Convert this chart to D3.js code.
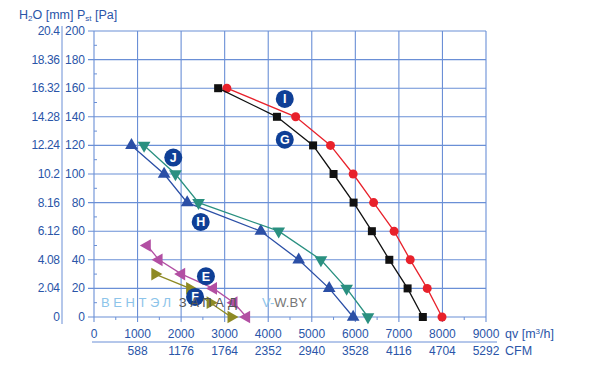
<!DOCTYPE html>
<html>
<head>
<meta charset="utf-8">
<script src="https://cdn.jsdelivr.net/npm/d3@7"></script>
<style>
	body { margin: 0; background: #fff; }
	svg { display: block; font-family: "Liberation Sans", Arial, sans-serif; }
</style>
</head>
<body>
<script>
// flow ticks in m3/h and the matching CFM labels
var flowTicks = [0, 1000, 2000, 3000, 4000, 5000, 6000, 7000, 8000, 9000];
var cfmLabels = ["", "588", "1176", "1764", "2352", "2940", "3528", "4116", "4704", "5292"];
// static pressure ticks in Pa and the matching mm H2O labels
var paTicks = [0, 20, 40, 60, 80, 100, 120, 140, 160, 180, 200];
var mmLabels = ["0", "2.04", "4.08", "6.12", "8.16", "10.2", "12.24", "14.28", "16.32", "18.36", "20.4"];

// curves, [flow m3/h, pressure Pa]
var curveI = [[3050,160],[4630,140],[5430,120],[5950,100],[6420,80],[6890,60],[7260,40],[7650,20],[7990,0]];
var curveG = [[2850,160],[4200,140],[5030,120],[5500,100],[5960,80],[6380,60],[6780,40],[7200,20],[7550,0]];
var curveH = [[860,120],[1610,100],[2140,80],[3830,60],[4700,40],[5400,20],[5950,0]];
var curveJ = [[1150,120],[1870,100],[2400,80],[4240,60],[5210,40],[5800,20],[6290,0]];
var curveE = [[1220,50],[1490,40],[2010,30],[2740,20],[3210,10],[3500,0]];
var curveF = [[1400,30],[2200,20],[2670,10],[3150,0]];

var curveNames = ["I", "G", "H", "J", "E", "F"];
// where the letter badges sit, in data units
var badgeFlow = [4380, 4380, 2450, 1820, 2570, 2320];
var badgePa = [152.5, 124, 66.5, 111.5, 28.5, 14];

var W = 595, H = 370;
var blue = "#2a55a8", grid = "#6a8fd6";

var svg = d3.select("body").append("svg")
	.attr("width", W)
	.attr("height", H);

var x = d3.scaleLinear().domain([0, 9000]).range([94, 486]);
var y = d3.scaleLinear().domain([0, 200]).range([317, 31]);

// grid
svg.append("g").selectAll("line.v")
	.data(flowTicks).enter().append("line")
	.attr("x1", function(d){ return x(d); }).attr("x2", function(d){ return x(d); })
	.attr("y1", y(200)).attr("y2", y(0) + 5)
	.attr("stroke", grid).attr("stroke-width", 1.1);
svg.append("g").selectAll("line.h")
	.data(paTicks).enter().append("line")
	.attr("x1", x(0) - 6).attr("x2", x(9000))
	.attr("y1", function(d){ return y(d); }).attr("y2", function(d){ return y(d); })
	.attr("stroke", grid).attr("stroke-width", 1.1);

// minor ticks
var minorPa = d3.range(10, 200, 20);
svg.append("g").selectAll("line")
	.data(minorPa).enter().append("line")
	.attr("x1", x(0)).attr("x2", x(0) + 3)
	.attr("y1", function(d){ return y(d); }).attr("y2", function(d){ return y(d); })
	.attr("stroke", grid);
var minorFlow = d3.range(500, 9000, 1000);
svg.append("g").selectAll("line")
	.data(minorFlow).enter().append("line")
	.attr("x1", function(d){ return x(d); }).attr("x2", function(d){ return x(d); })
	.attr("y1", y(0)).attr("y2", y(0) + 3)
	.attr("stroke", grid);

// left axes labels
var left = svg.append("g").attr("font-size", 12).attr("fill", blue).attr("text-anchor", "end");
left.selectAll("text.pa").data(paTicks).enter().append("text")
	.attr("x", 85).attr("y", function(d){ return y(d) + 4; })
	.text(function(d){ return d; });
left.selectAll("text.mm").data(paTicks).enter().append("text")
	.attr("x", 59.5).attr("y", function(d){ return y(d) + 4; })
	.attr("letter-spacing", -0.4)
	.text(function(d, i){ return mmLabels[i]; });
svg.append("line")
	.attr("x1", 62).attr("x2", 62).attr("y1", 26).attr("y2", 324)
	.attr("stroke", grid);

// bottom axes labels
var bottom = svg.append("g").attr("font-size", 12).attr("fill", blue).attr("text-anchor", "middle");
bottom.selectAll("text.q").data(flowTicks).enter().append("text")
	.attr("x", function(d){ return x(d); }).attr("y", 338)
	.text(function(d){ return d; });
bottom.selectAll("text.c").data(flowTicks).enter().append("text")
	.attr("x", function(d){ return x(d); }).attr("y", 355)
	.text(function(d, i){ return cfmLabels[i]; });
svg.append("line")
	.attr("x1", 92).attr("x2", 497).attr("y1", 342).attr("y2", 342)
	.attr("stroke", grid);

// units
var units = svg.append("g").attr("font-size", 12.5).attr("fill", blue);
var t1 = units.append("text").attr("x", 19).attr("y", 19);
t1.append("tspan").text("H");
t1.append("tspan").attr("font-size", 8).attr("dy", 2).text("2");
t1.append("tspan").attr("dy", -2).text("O [mm]  P");
t1.append("tspan").attr("font-size", 8).attr("dy", 2).text("st");
t1.append("tspan").attr("dy", -2).text(" [Pa]");
var t2 = units.append("text").attr("x", 505).attr("y", 338);
t2.append("tspan").text("qv  [m");
t2.append("tspan").attr("font-size", 8).attr("dy", -4).text("3");
t2.append("tspan").attr("dy", 4).text("/h]");
units.append("text").attr("x", 505).attr("y", 355).text("CFM");

// curves
var series = [
	{ data: curveI, color: "#e8212b", marker: "circle" },
	{ data: curveG, color: "#111111", marker: "square" },
	{ data: curveH, color: "#2b4fa6", marker: "up" },
	{ data: curveJ, color: "#2a9080", marker: "down" },
	{ data: curveE, color: "#b24fa3", marker: "left" },
	{ data: curveF, color: "#8e8a24", marker: "right" }
];

var line = d3.line()
	.x(function(d){ return x(d[0]); })
	.y(function(d){ return y(d[1]); });

var triUp = d3.symbol().type(d3.symbolTriangle).size(70)();

series.forEach(function(s){
	var g = svg.append("g");
	g.append("path").attr("d", line(s.data))
		.attr("fill", "none").attr("stroke", s.color).attr("stroke-width", 1.3);
	var m = g.selectAll(".m").data(s.data).enter();
	if(s.marker === "circle"){
		m.append("circle")
			.attr("cx", function(d){ return x(d[0]); }).attr("cy", function(d){ return y(d[1]); })
			.attr("r", 4.5).attr("fill", s.color);
	} else if(s.marker === "square"){
		m.append("rect")
			.attr("x", function(d){ return x(d[0]) - 4; }).attr("y", function(d){ return y(d[1]) - 4; })
			.attr("width", 8).attr("height", 8).attr("fill", s.color);
	} else {
		var rot = { up: 0, down: 180, left: -90, right: 90 }[s.marker];
		m.append("path").attr("d", triUp).attr("fill", s.color)
			.attr("transform", function(d){
				return "translate(" + x(d[0]) + "," + y(d[1]) + ") rotate(" + rot + ")";
			});
	}
});

// letter badges
var badges = svg.append("g");
curveNames.forEach(function(n, i){
	var cx = x(badgeFlow[i]), cy = y(badgePa[i]);
	badges.append("circle").attr("cx", cx).attr("cy", cy).attr("r", 9).attr("fill", "#0f3f96");
	badges.append("text").attr("x", cx).attr("y", cy + 4.5)
		.attr("text-anchor", "middle").attr("font-size", 12.5).attr("font-weight", "bold")
		.attr("fill", "#fff").text(n);
});

// watermark
var wm = svg.append("text").attr("x", 101).attr("y", 307)
	.attr("font-size", 13).attr("letter-spacing", 3.6);
wm.append("tspan").attr("fill", "#8cc4ea").text("ВЕНТЭЛ");
wm.append("tspan").attr("fill", "#555").attr("dx", 4).text("ЗАПАД");
var wm2 = svg.append("text").attr("x", 262).attr("y", 307).attr("font-size", 13);
wm2.append("tspan").attr("fill", "#8cc4ea").text("V-");
wm2.append("tspan").attr("fill", "#777").text("W.BY");
</script>
</body>
</html>
